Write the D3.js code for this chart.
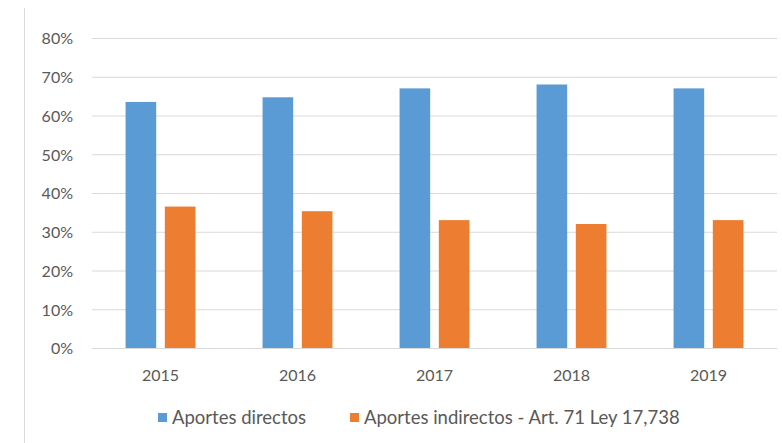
<!DOCTYPE html>
<html>
<head>
<meta charset="utf-8">
<script src="https://cdn.jsdelivr.net/npm/d3@7"></script>
<style>
  body { margin: 0; background: #fff; }
  text { font-family: Lato, "Open Sans", sans-serif; fill: #595959; }
</style>
</head>
<body>
<svg width="782" height="443"></svg>
<script>
// data
var years = ["2015", "2016", "2017", "2018", "2019"];
var directos = [0.635, 0.647, 0.67, 0.68, 0.67];
var indirectos = [0.365, 0.353, 0.33, 0.32, 0.33];
var seriesNames = ["Aportes directos", "Aportes indirectos - Art. 71 Ley 17,738"];
var colors = ["#5B9BD5", "#ED7D31"];
var yTicks = [0, 0.1, 0.2, 0.3, 0.4, 0.5, 0.6, 0.7, 0.8];

var svg = d3.select("svg");

var plotLeft = 92, plotRight = 777, plotTop = 38, plotBottom = 348;

var y = d3.scaleLinear().domain([0, 0.8]).range([plotBottom, plotTop]);
var x0 = d3.scaleBand().domain(years).range([plotLeft, plotRight])
    .paddingInner(0.49).paddingOuter(0.245);
var x1 = d3.scaleBand().domain([0, 1]).range([0, x0.bandwidth()])
    .paddingInner(0.22).paddingOuter(0);

// left frame line
svg.append("line")
    .attr("x1", 24.5).attr("x2", 24.5)
    .attr("y1", 8).attr("y2", 443)
    .attr("stroke", "#d9d9d9").attr("stroke-width", 1);

// gridlines + y labels
var yAxis = d3.axisLeft(y).tickValues(yTicks)
    .tickSize(-(plotRight - plotLeft))
    .tickFormat(d3.format(".0%"));
var gy = svg.append("g")
    .attr("transform", "translate(" + plotLeft + ",0)")
    .call(yAxis);
gy.select(".domain").remove();
gy.selectAll(".tick line").attr("stroke", "#d9d9d9").attr("stroke-width", 1);
gy.selectAll(".tick text")
    .attr("x", -19)
    .attr("dy", "0.36em")
    .style("font-size", "16px")
    .style("font-family", "Lato, sans-serif")
    .attr("fill", "#595959");

// bars
var groups = svg.append("g").selectAll("g")
    .data(years).enter()
    .append("g")
    .attr("transform", function(d) { return "translate(" + x0(d) + ",0)"; });

groups.selectAll("rect")
    .data(function(d, i) { return [directos[i], indirectos[i]]; })
    .enter().append("rect")
    .attr("x", function(d, j) { return x1(j); })
    .attr("y", function(d) { return y(d); })
    .attr("width", x1.bandwidth())
    .attr("height", function(d) { return plotBottom - y(d); })
    .attr("fill", function(d, j) { return colors[j]; });

// x axis
var xAxis = d3.axisBottom(x0).tickSize(0).tickPadding(0);
var gx = svg.append("g")
    .attr("transform", "translate(0," + plotBottom + ")")
    .call(xAxis);
gx.select(".domain").attr("stroke", "#d9d9d9").attr("d", "M" + plotLeft + ",0.5H" + plotRight);
gx.selectAll(".tick text")
    .attr("y", 33)
    .attr("dy", 0)
    .style("font-size", "16px")
    .style("font-family", "Lato, sans-serif")
    .attr("fill", "#595959");

// legend
var legendX = [158, 350];
var legend = svg.append("g").selectAll("g")
    .data(seriesNames).enter()
    .append("g")
    .attr("transform", function(d, i) { return "translate(" + legendX[i] + ",413)"; });
legend.append("rect")
    .attr("width", 9).attr("height", 9)
    .attr("fill", function(d, i) { return colors[i]; });
legend.append("text")
    .attr("x", 14).attr("y", 11)
    .style("font-size", "18.5px")
    .text(function(d) { return d; });
</script>
</body>
</html>
